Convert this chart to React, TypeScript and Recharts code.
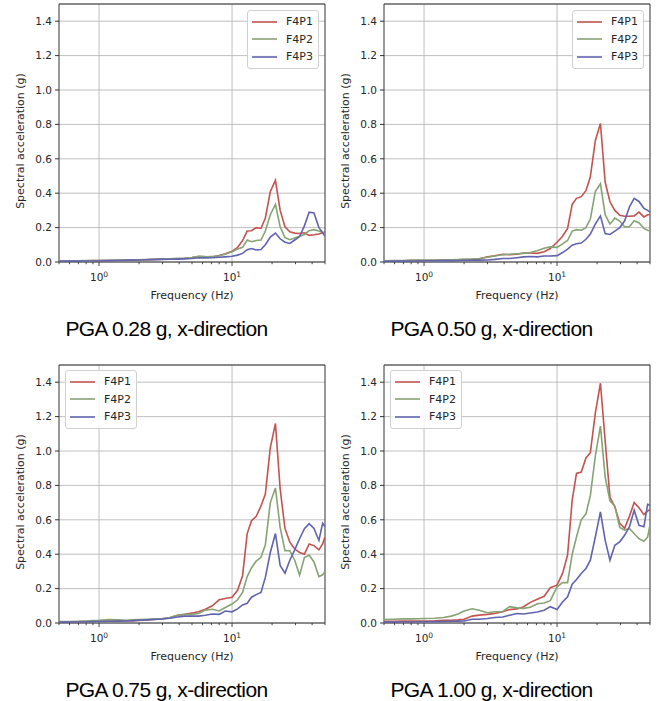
import React from "react";
import {
  LineChart,
  Line,
  XAxis,
  YAxis,
  CartesianGrid,
  Legend,
  ReferenceArea
} from "recharts";

// frequency points (Hz), shared by every response spectrum
const FREQ = [
  0.5, 0.6, 0.7, 0.8, 0.9, 1.0, 1.2, 1.4, 1.6, 1.8, 2.0, 2.3, 2.6, 3.0, 3.4,
  3.9, 4.4, 5.0, 5.6, 6.3, 7.1, 8.0, 8.9, 10, 11, 12, 13, 14, 15.2, 16.5, 17.8,
  19.4, 21.2, 23, 25, 27.2, 29.6, 32.2, 35, 38, 41.3, 45, 48, 50
];

const SERIES = ["F4P1", "F4P2", "F4P3"];
const COLORS = ["#c4534f", "#86a374", "#6163b0"];

// PGA 0.28 g
const PGA028_F4P1 = [
  0.005, 0.006, 0.006, 0.007, 0.008, 0.008, 0.009, 0.01, 0.011, 0.012, 0.013,
  0.014, 0.015, 0.017, 0.018, 0.02, 0.022, 0.026, 0.032, 0.03, 0.031, 0.038,
  0.048, 0.062, 0.085, 0.125, 0.18, 0.182, 0.2, 0.195, 0.255, 0.41, 0.475, 0.3,
  0.205, 0.175, 0.168, 0.166, 0.17, 0.155, 0.158, 0.163, 0.17, 0.175
];
const PGA028_F4P2 = [
  0.006, 0.007, 0.007, 0.008, 0.008, 0.009, 0.01, 0.011, 0.012, 0.013, 0.013,
  0.014, 0.016, 0.018, 0.018, 0.02, 0.022, 0.026, 0.033, 0.031, 0.03, 0.036,
  0.045, 0.06, 0.075, 0.085, 0.128, 0.118, 0.125, 0.128, 0.18, 0.275, 0.335,
  0.205, 0.142, 0.13, 0.14, 0.15, 0.16, 0.182, 0.188, 0.18, 0.172, 0.165
];
const PGA028_F4P3 = [
  0.004, 0.005, 0.005, 0.006, 0.006, 0.007, 0.008, 0.009, 0.01, 0.011, 0.012,
  0.013, 0.014, 0.015, 0.016, 0.017, 0.018, 0.02, 0.025, 0.024, 0.025, 0.028,
  0.03, 0.033, 0.04, 0.05, 0.072, 0.078, 0.07, 0.073, 0.1, 0.145, 0.168, 0.135,
  0.115, 0.108, 0.128, 0.148, 0.21, 0.29, 0.285, 0.2, 0.17, 0.15
];

// PGA 0.50 g
const PGA050_F4P1 = [
  0.006, 0.006, 0.007, 0.008, 0.008, 0.009, 0.01, 0.011, 0.012, 0.013, 0.014,
  0.016, 0.018, 0.03, 0.036, 0.045, 0.042, 0.045, 0.052, 0.052, 0.05, 0.06,
  0.078, 0.115, 0.15, 0.195, 0.335, 0.37, 0.38, 0.415, 0.495, 0.705, 0.805,
  0.465, 0.35, 0.3, 0.272, 0.266, 0.266, 0.268, 0.29, 0.262, 0.275, 0.275
];
const PGA050_F4P2 = [
  0.007, 0.008, 0.009, 0.011, 0.012, 0.012, 0.012, 0.012, 0.013, 0.014, 0.015,
  0.017, 0.02, 0.028, 0.035, 0.042, 0.045, 0.048, 0.05, 0.055, 0.065, 0.08,
  0.088, 0.085, 0.105, 0.125, 0.18, 0.188, 0.185, 0.2, 0.25, 0.41, 0.455,
  0.275, 0.22, 0.255, 0.238, 0.205, 0.205, 0.24, 0.228, 0.195, 0.185, 0.18
];
const PGA050_F4P3 = [
  0.004, 0.005, 0.005, 0.006, 0.006, 0.007, 0.007, 0.008, 0.008, 0.009, 0.01,
  0.01, 0.011, 0.012, 0.015, 0.02, 0.02, 0.025, 0.03, 0.032, 0.03, 0.035,
  0.035, 0.037, 0.055, 0.075, 0.098, 0.106, 0.11, 0.132, 0.162, 0.22, 0.268,
  0.165, 0.16, 0.18, 0.2, 0.238, 0.32, 0.37, 0.352, 0.312, 0.3, 0.29
];

// PGA 0.75 g
const PGA075_F4P1 = [
  0.006, 0.007, 0.008, 0.009, 0.01, 0.01, 0.011, 0.012, 0.013, 0.014, 0.015,
  0.018, 0.021, 0.025, 0.03, 0.045, 0.05, 0.058, 0.065, 0.08, 0.1, 0.135,
  0.142, 0.15, 0.19, 0.275, 0.52, 0.595, 0.62, 0.68, 0.75, 1.02, 1.16, 0.78,
  0.55, 0.47, 0.43, 0.41, 0.4, 0.46, 0.45, 0.425, 0.46, 0.5
];
const PGA075_F4P2 = [
  0.008, 0.009, 0.01, 0.012, 0.014, 0.015, 0.02, 0.018, 0.016, 0.018, 0.02,
  0.022, 0.024, 0.026, 0.032, 0.045, 0.05, 0.05, 0.055, 0.075, 0.08, 0.07,
  0.09, 0.11, 0.135, 0.178, 0.27, 0.32, 0.36, 0.382, 0.455, 0.7, 0.785, 0.555,
  0.42, 0.42, 0.365, 0.278, 0.38, 0.395, 0.355, 0.27, 0.28, 0.3
];
const PGA075_F4P3 = [
  0.005, 0.005, 0.006, 0.007, 0.008, 0.009, 0.01, 0.011, 0.012, 0.014, 0.016,
  0.018, 0.02, 0.023, 0.028, 0.035, 0.04, 0.04, 0.04, 0.045, 0.052, 0.05,
  0.07, 0.065, 0.082, 0.105, 0.115, 0.15, 0.165, 0.178, 0.265, 0.41, 0.52,
  0.335, 0.29, 0.365, 0.425, 0.49, 0.548, 0.578, 0.55, 0.48, 0.58, 0.56
];

// PGA 1.00 g
const PGA100_F4P1 = [
  0.01, 0.01, 0.011, 0.011, 0.012, 0.012, 0.013, 0.015, 0.016, 0.018, 0.022,
  0.04, 0.046, 0.05, 0.055, 0.065, 0.078, 0.082, 0.095, 0.12, 0.138, 0.155,
  0.205, 0.22, 0.288, 0.395, 0.714, 0.87, 0.878, 0.96, 0.99, 1.22, 1.394, 1.06,
  0.73, 0.676, 0.58, 0.55, 0.62, 0.7, 0.67, 0.63, 0.65, 0.66
];
const PGA100_F4P2 = [
  0.02, 0.022, 0.024, 0.024, 0.025, 0.026, 0.028, 0.032, 0.04, 0.052, 0.07,
  0.083, 0.074, 0.06, 0.065, 0.066, 0.095, 0.088, 0.085, 0.092, 0.112, 0.116,
  0.13, 0.21, 0.235, 0.235, 0.4, 0.5, 0.6, 0.635, 0.74, 0.97, 1.145, 0.85,
  0.71, 0.68, 0.555, 0.54, 0.55, 0.52, 0.49, 0.475, 0.5, 0.57
];
const PGA100_F4P3 = [
  0.005, 0.005, 0.006, 0.006, 0.007, 0.007, 0.008, 0.009, 0.01, 0.011, 0.012,
  0.022, 0.022, 0.026, 0.032, 0.035, 0.045, 0.055, 0.052, 0.058, 0.064, 0.074,
  0.095, 0.078, 0.122, 0.152, 0.226, 0.253, 0.288, 0.317, 0.365, 0.5, 0.646,
  0.482, 0.365, 0.452, 0.472, 0.51, 0.559, 0.656, 0.568, 0.56, 0.69, 0.685
];

const Y_TICKS = [0, 0.2, 0.4, 0.6, 0.8, 1.0, 1.2, 1.4];
const X_TICKS = [0.5, 0.6, 0.7, 0.8, 0.9, 1, 2, 3, 4, 5, 6, 7, 8, 9, 10, 20, 30, 40, 50];
const X_MAJOR = [1, 10];

const FONT = "'DejaVu Sans', sans-serif";
const AXIS = "#333333";
const GRID = "#b0b0b0";
const TEXT = "#262626";

const FreqTick = (props: any) => {
  const { x, y, payload } = props;
  const v = payload.value;
  const major = X_MAJOR.indexOf(v) >= 0;
  return (
    <g>
      <line x1={x} x2={x} y1={y} y2={y + (major ? 4 : 2.2)} stroke={AXIS} strokeWidth={0.9} />
      {major && (
        <text x={x} y={y + 19} textAnchor="middle" fontFamily={FONT} fontSize={10.5} fill={TEXT}>
          10
          <tspan dy={-4.5} fontSize={7.5}>
            {Math.round(Math.log10(v))}
          </tspan>
        </text>
      )}
    </g>
  );
};

const YLabel = (props: any) => {
  const vb = props.viewBox || { x: 9, y: 4, width: 50, height: 258 };
  const cx = vb.x + 11;
  const cy = vb.y + vb.height / 2 + 8;
  return (
    <text
      x={cx}
      y={cy}
      transform={`rotate(-90 ${cx} ${cy})`}
      textAnchor="middle"
      dominantBaseline="central"
      fontFamily={FONT}
      fontSize={11}
      fill={TEXT}
    >
      Spectral acceleration (g)
    </text>
  );
};

const XLabel = (props: any) => {
  const vb = props.viewBox || { x: 59, y: 262, width: 266, height: 38 };
  return (
    <text
      x={vb.x + vb.width / 2}
      y={vb.y + 37}
      textAnchor="middle"
      fontFamily={FONT}
      fontSize={11}
      fill={TEXT}
    >
      Frequency (Hz)
    </text>
  );
};

const LegendBox = () => (
  <div
    style={{
      border: "1px solid #d0d0d0",
      borderRadius: 3,
      background: "rgba(255,255,255,0.85)",
      padding: "2px 5px 2px 4px",
      fontFamily: FONT,
      fontSize: 11,
      color: TEXT
    }}
  >
    {SERIES.map((name, k) => (
      <div key={name} style={{ display: "flex", alignItems: "center", height: 17.5 }}>
        <svg width={25} height={4} style={{ marginRight: 9 }}>
          <line x1={0} y1={2} x2={25} y2={2} stroke={COLORS[k]} strokeWidth={1.6} />
        </svg>
        <span>{name}</span>
      </div>
    ))}
  </div>
);

interface PanelProps {
  title: string;
  series: number[][];
  left: number;
  top: number;
  legendLeft: number;
  legendTop: number;
}

const Panel = ({ title, series, left, top, legendLeft, legendTop }: PanelProps) => {
  const data = FREQ.map((f, i) => ({
    f,
    F4P1: series[0][i],
    F4P2: series[1][i],
    F4P3: series[2][i]
  }));
  return (
    <div style={{ position: "absolute", left, top, width: 330, height: 345 }}>
      <LineChart width={330} height={306} data={data} margin={{ top: 4, right: 5, bottom: 6, left: 9 }}>
        <CartesianGrid stroke={GRID} strokeWidth={0.8} verticalValues={X_MAJOR} />
        <XAxis
          dataKey="f"
          type="number"
          scale="log"
          domain={[0.5, 50]}
          allowDataOverflow
          ticks={X_TICKS}
          interval={0}
          tickSize={0}
          tickMargin={0}
          tick={(p: any) => <FreqTick {...p} />}
          axisLine={false}
          height={38}
          label={(p: any) => <XLabel {...p} />}
        />
        <YAxis
          type="number"
          domain={[0, 1.5]}
          allowDataOverflow
          ticks={Y_TICKS}
          interval={0}
          tickFormatter={(v: number) => v.toFixed(1)}
          width={50}
          tickSize={4}
          tickMargin={3}
          tick={{ fontFamily: FONT, fontSize: 10.5, fill: TEXT }}
          tickLine={{ stroke: AXIS }}
          axisLine={false}
          label={(p: any) => <YLabel {...p} />}
        />
        {SERIES.map((name, k) => (
          <Line
            key={name}
            type="linear"
            dataKey={name}
            stroke={COLORS[k]}
            strokeWidth={1.6}
            dot={false}
            activeDot={false}
            isAnimationActive={false}
          />
        ))}
        <ReferenceArea x1={0.5} x2={50} y1={0} y2={1.5} fill="none" stroke={AXIS} strokeWidth={1} />
        <Legend
          layout="vertical"
          align="center"
          verticalAlign="middle"
          wrapperStyle={{ left: legendLeft, top: legendTop, width: "auto" }}
          content={() => <LegendBox />}
        />
      </LineChart>
      <div
        style={{
          position: "absolute",
          left: 16.5,
          top: 317,
          width: 300,
          textAlign: "center",
          fontFamily: "'Liberation Sans', Arial, sans-serif",
          fontSize: 21,
          lineHeight: "24px",
          letterSpacing: -0.6,
          color: "#000"
        }}
      >
        {title}
      </div>
    </div>
  );
};

export default function App() {
  return (
    <div style={{ position: "absolute", left: 0, top: 0, width: 660, height: 701, background: "#fff" }}>
      <Panel
        title="PGA 0.28 g, x-direction"
        series={[PGA028_F4P1, PGA028_F4P2, PGA028_F4P3]}
        left={0}
        top={0}
        legendLeft={247}
        legendTop={10}
      />
      <Panel
        title="PGA 0.50 g, x-direction"
        series={[PGA050_F4P1, PGA050_F4P2, PGA050_F4P3]}
        left={325}
        top={0}
        legendLeft={247}
        legendTop={10}
      />
      <Panel
        title="PGA 0.75 g, x-direction"
        series={[PGA075_F4P1, PGA075_F4P2, PGA075_F4P3]}
        left={0}
        top={361}
        legendLeft={65}
        legendTop={9}
      />
      <Panel
        title="PGA 1.00 g, x-direction"
        series={[PGA100_F4P1, PGA100_F4P2, PGA100_F4P3]}
        left={325}
        top={361}
        legendLeft={65}
        legendTop={9}
      />
    </div>
  );
}
